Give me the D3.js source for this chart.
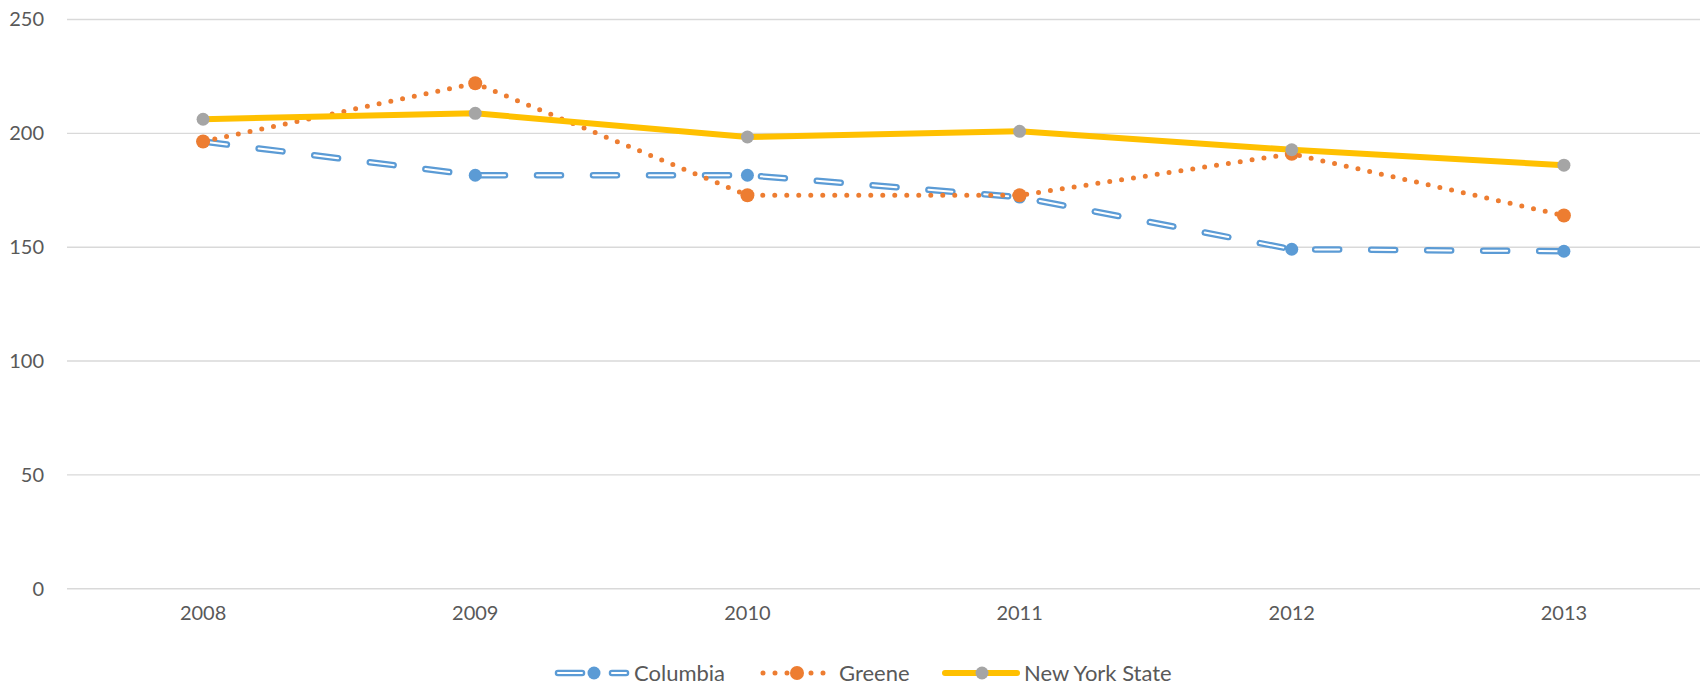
<!DOCTYPE html>
<html>
<head>
<meta charset="utf-8">
<script src="https://cdn.jsdelivr.net/npm/d3@7"></script>
<style>
  body { margin: 0; background: #fff; }
  text { font-family: Lato, "Open Sans", sans-serif; fill: #595959; }
</style>
</head>
<body>
<script>
// Canvas size of the chart
var width = 1703;
var height = 693;

// Chart data
var years = ["2008", "2009", "2010", "2011", "2012", "2013"];
var columbia = [196.4, 181.6, 181.6, 172, 149.1, 148.2];
var greene = [196.4, 222, 172.8, 172.8, 191, 163.9];
var newYorkState = [206.2, 208.8, 198.4, 200.9, 192.8, 186];
var yTicks = [0, 50, 100, 150, 200, 250];

var seriesNames = ["Columbia", "Greene", "New York State"];
var seriesValues = [columbia, greene, newYorkState];
var lineColors = ["#5B9BD5", "#ED7D31", "#FFC000"];
var markerColors = ["#5B9BD5", "#ED7D31", "#A5A5A5"];

var svg = d3.select("body")
    .append("svg")
    .attr("width", width)
    .attr("height", height)

// Scales
var x = d3.scaleBand()
    .domain(years)
    .range([67, 1700]);

var y = d3.scaleLinear()
    .domain([0, 250])
    .range([588.7, 19.5]);

// Gridlines
svg.append("g")
    .selectAll("line")
    .data(yTicks)
    .enter()
    .append("line")
    .attr("x1", 67)
    .attr("x2", 1700)
    .attr("y1", function (d) { return y(d); })
    .attr("y2", function (d) { return y(d); })
    .attr("stroke", "#D9D9D9")
    .attr("stroke-width", 1.4);

// Y axis labels
var yAxis = d3.axisLeft(y).tickValues(yTicks).tickSize(0).tickPadding(0);
var yg = svg.append("g")
    .attr("transform", "translate(44,0)")
    .call(yAxis);
yg.select(".domain").remove();
yg.selectAll("text").style("font-size", "20px").attr("fill", "#595959").attr("font-family", null);

// X axis labels
var xAxis = d3.axisBottom(x).tickSize(0).tickPadding(0);
var xg = svg.append("g")
    .attr("transform", "translate(0,606)")
    .call(xAxis);
xg.select(".domain").remove();
xg.selectAll("text").style("font-size", "20px").attr("fill", "#595959").attr("font-family", null);

var line = d3.line()
    .x(function (d, i) { return x(years[i]) + x.bandwidth() / 2; })
    .y(function (d) { return y(d); });

function drawSeries(k) {
    var g = svg.append("g");
    if (k == 0) {
        // hollow dashes: thick blue dash with a thin white core
        g.append("path").attr("d", line(seriesValues[k]))
            .attr("fill", "none").attr("stroke", lineColors[k])
            .attr("stroke-width", 6.5).attr("stroke-linecap", "round")
            .attr("stroke-dasharray", "24,32");
        g.append("path").attr("d", line(seriesValues[k]))
            .attr("fill", "none").attr("stroke", "#fff")
            .attr("stroke-width", 2).attr("stroke-linecap", "round")
            .attr("stroke-dasharray", "24,32");
    } else if (k == 1) {
        g.append("path").attr("d", line(seriesValues[k]))
            .attr("fill", "none").attr("stroke", lineColors[k])
            .attr("stroke-width", 5).attr("stroke-linecap", "round")
            .attr("stroke-dasharray", "0,12");
    } else {
        g.append("path").attr("d", line(seriesValues[k]))
            .attr("fill", "none").attr("stroke", lineColors[k])
            .attr("stroke-width", 6).attr("stroke-linejoin", "round");
    }
    g.selectAll("circle")
        .data(seriesValues[k])
        .enter()
        .append("circle")
        .attr("cx", function (d, i) { return x(years[i]) + x.bandwidth() / 2; })
        .attr("cy", function (d) { return y(d); })
        .attr("r", k == 1 ? 7 : 6.5)
        .attr("fill", markerColors[k]);
}

seriesValues.forEach(function (v, k) { drawSeries(k); });

// Legend
var legendY = 673;
var legend = svg.append("g");

// Columbia: hollow dash, marker, short hollow dash
var lc = legend.append("g");
[[558, 582], [612, 626]].forEach(function (s) {
    lc.append("line").attr("x1", s[0]).attr("x2", s[1])
        .attr("y1", legendY).attr("y2", legendY)
        .attr("stroke", lineColors[0]).attr("stroke-width", 6.5)
        .attr("stroke-linecap", "round");
    lc.append("line").attr("x1", s[0]).attr("x2", s[1])
        .attr("y1", legendY).attr("y2", legendY)
        .attr("stroke", "#fff").attr("stroke-width", 2)
        .attr("stroke-linecap", "round");
});
lc.append("circle").attr("cx", 594).attr("cy", legendY).attr("r", 6.5).attr("fill", markerColors[0]);
lc.append("text").attr("x", 634).attr("y", legendY).attr("dy", "0.35em")
    .style("font-size", "22px").text(seriesNames[0]);

// Greene: dots with marker
var lgr = legend.append("g");
lgr.append("line").attr("x1", 763).attr("x2", 826)
    .attr("y1", legendY).attr("y2", legendY)
    .attr("stroke", lineColors[1]).attr("stroke-width", 5)
    .attr("stroke-linecap", "round").attr("stroke-dasharray", "0,12");
lgr.append("circle").attr("cx", 797).attr("cy", legendY).attr("r", 7).attr("fill", markerColors[1]);
lgr.append("text").attr("x", 839).attr("y", legendY).attr("dy", "0.35em")
    .style("font-size", "22px").text(seriesNames[1]);

// New York State: solid line with marker
var ln = legend.append("g");
ln.append("line").attr("x1", 945).attr("x2", 1017)
    .attr("y1", legendY).attr("y2", legendY)
    .attr("stroke", lineColors[2]).attr("stroke-width", 6)
    .attr("stroke-linecap", "round");
ln.append("circle").attr("cx", 982).attr("cy", legendY).attr("r", 6.5).attr("fill", markerColors[2]);
ln.append("text").attr("x", 1024).attr("y", legendY).attr("dy", "0.35em")
    .style("font-size", "22px").text(seriesNames[2]);
</script>
</body>
</html>
